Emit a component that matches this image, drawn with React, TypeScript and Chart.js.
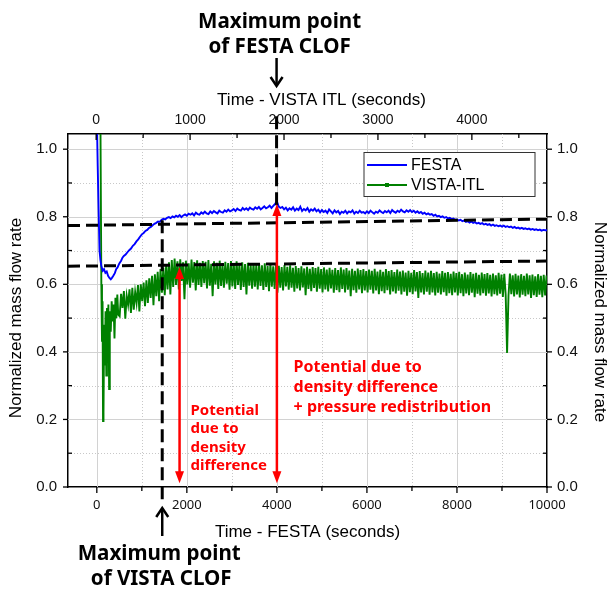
import { useEffect, useRef } from 'react';
import { Chart, registerables } from 'chart.js';
Chart.register(...registerables);

// ---------- data ----------
// FESTA, bottom axis (s)
const FESTA_EARLY_TIME = [0, 20, 40, 60, 80, 100, 130, 160, 190, 220, 250, 280, 310, 340, 370, 400, 430, 460, 500, 540, 570];
const FESTA_EARLY_FLOW = [1.1, 0.95, 0.82, 0.7, 0.672, 0.655, 0.64, 0.645, 0.634, 0.638, 0.625, 0.619, 0.615, 0.62, 0.626, 0.633, 0.645, 0.65, 0.662, 0.67, 0.679];
const FESTA_SAMPLE_START = 600;
const FESTA_SAMPLE_STEP = 40;
const FESTA_FLOW = [
  0.684, 0.688, 0.695, 0.701, 0.706, 0.714, 0.719, 0.727, 0.733, 0.741,
  0.748, 0.752, 0.758, 0.761, 0.767, 0.77, 0.775, 0.779, 0.782, 0.786, 0.785, 0.791, 0.794, 0.792, 0.797, 0.799, 0.796, 0.801, 0.798, 0.803, 0.8, 0.805, 0.799, 0.804, 0.807,
  0.803, 0.809, 0.806, 0.81, 0.804, 0.812, 0.808, 0.806, 0.813, 0.809, 0.815, 0.81, 0.808, 0.816, 0.811, 0.817, 0.813, 0.81, 0.818, 0.814, 0.812, 0.819, 0.815, 0.821, 0.816,
  0.819, 0.823, 0.817, 0.824, 0.82, 0.818, 0.826, 0.821, 0.825, 0.82, 0.827, 0.823, 0.821, 0.828, 0.824, 0.829, 0.822, 0.826, 0.831, 0.825, 0.828, 0.833, 0.826, 0.832, 0.838,
  0.845, 0.83, 0.826, 0.829, 0.822, 0.827, 0.819, 0.825, 0.821, 0.828, 0.818, 0.824, 0.82, 0.83, 0.817, 0.823, 0.819, 0.826, 0.815, 0.822, 0.818, 0.824, 0.816, 0.821, 0.813,
  0.82, 0.814, 0.818, 0.811, 0.822, 0.816, 0.81, 0.819, 0.813, 0.817, 0.808, 0.815, 0.812, 0.818, 0.81, 0.816, 0.813, 0.819, 0.809, 0.815, 0.811, 0.818, 0.812, 0.814, 0.81,
  0.816, 0.811, 0.818, 0.813, 0.809, 0.815, 0.812, 0.819, 0.814, 0.811, 0.817, 0.813, 0.818, 0.811, 0.82, 0.815, 0.812, 0.818, 0.814, 0.821, 0.816, 0.813, 0.819, 0.815, 0.82,
  0.814, 0.818, 0.812, 0.816, 0.811, 0.814, 0.809, 0.812, 0.807, 0.81, 0.806, 0.808, 0.803, 0.806, 0.801, 0.803, 0.799, 0.801, 0.797, 0.799, 0.795, 0.797, 0.793, 0.795, 0.791,
  0.792, 0.789, 0.791, 0.787, 0.789, 0.785, 0.787, 0.783, 0.786, 0.782, 0.784, 0.78, 0.782, 0.779, 0.781, 0.777, 0.779, 0.776, 0.778, 0.774, 0.777, 0.773, 0.775, 0.772, 0.774,
  0.771, 0.774, 0.77, 0.772, 0.769, 0.771, 0.767, 0.77, 0.766, 0.768, 0.765, 0.767, 0.764, 0.766, 0.763, 0.765, 0.762, 0.764, 0.761, 0.763, 0.76, 0.762, 0.759, 0.761, 0.76,
  0.76,
];

// VISTA-ITL, top axis (s)
const VISTA_EARLY_TIME = [0, 45, 55, 62, 68, 73, 78, 85, 92, 100, 108, 115, 122, 130, 138, 145, 155, 165, 175, 185, 195, 205, 215, 225, 235];
const VISTA_EARLY_FLOW = [1.1, 1.1, 0.6, 0.43, 0.55, 0.195, 0.22, 0.48, 0.36, 0.52, 0.33, 0.53, 0.375, 0.54, 0.29, 0.52, 0.46, 0.55, 0.49, 0.54, 0.44, 0.56, 0.5, 0.57, 0.51];
const VISTA_SAMPLE_START = 250;
const VISTA_SAMPLE_STEP = 15;
const VISTA_FLOW = [
  0.505, 0.572, 0.53, 0.58, 0.498, 0.566, 0.54, 0.585, 0.515, 0.59, 0.525, 0.577, 0.545, 0.598, 0.52, 0.6, 0.55, 0.605, 0.535, 0.612,
  0.545, 0.618, 0.56, 0.625, 0.538, 0.63, 0.565, 0.637, 0.55, 0.645, 0.575, 0.65, 0.568, 0.658, 0.585, 0.665, 0.57, 0.672, 0.592, 0.676,
  0.598, 0.668, 0.585, 0.674, 0.61, 0.665, 0.556, 0.67, 0.6, 0.662, 0.59, 0.673, 0.605, 0.666, 0.582, 0.671, 0.598, 0.664, 0.592, 0.669,
  0.603, 0.667, 0.588, 0.672, 0.596, 0.661, 0.565, 0.668, 0.6, 0.664, 0.586, 0.67, 0.595, 0.66, 0.59, 0.667, 0.602, 0.663, 0.584, 0.669,
  0.594, 0.662, 0.586, 0.668, 0.598, 0.659, 0.583, 0.665, 0.592, 0.66, 0.57, 0.664, 0.596, 0.657, 0.587, 0.663, 0.593, 0.658, 0.585, 0.661,
  0.595, 0.656, 0.583, 0.662, 0.592, 0.654, 0.58, 0.66, 0.593, 0.653, 0.586, 0.658, 0.575, 0.655, 0.59, 0.651, 0.582, 0.657, 0.594, 0.652,
  0.584, 0.656, 0.59, 0.649, 0.578, 0.654, 0.588, 0.648, 0.582, 0.653, 0.591, 0.647, 0.568, 0.652, 0.586, 0.646, 0.58, 0.651, 0.589, 0.648,
  0.578, 0.652, 0.587, 0.645, 0.576, 0.65, 0.585, 0.644, 0.579, 0.649, 0.588, 0.643, 0.575, 0.648, 0.583, 0.642, 0.577, 0.65, 0.586, 0.644,
  0.576, 0.648, 0.584, 0.641, 0.565, 0.646, 0.583, 0.64, 0.575, 0.647, 0.585, 0.642, 0.574, 0.645, 0.582, 0.639, 0.576, 0.644, 0.584, 0.64,
  0.573, 0.646, 0.582, 0.638, 0.571, 0.643, 0.58, 0.637, 0.574, 0.645, 0.583, 0.639, 0.57, 0.642, 0.579, 0.636, 0.573, 0.644, 0.581, 0.638,
  0.57, 0.641, 0.578, 0.635, 0.566, 0.64, 0.577, 0.634, 0.571, 0.642, 0.579, 0.636, 0.56, 0.639, 0.576, 0.633, 0.57, 0.641, 0.578, 0.635,
  0.569, 0.64, 0.576, 0.633, 0.567, 0.637, 0.575, 0.632, 0.57, 0.639, 0.577, 0.634, 0.566, 0.636, 0.574, 0.631, 0.568, 0.638, 0.576, 0.633,
  0.567, 0.637, 0.574, 0.63, 0.565, 0.635, 0.573, 0.629, 0.568, 0.636, 0.575, 0.631, 0.562, 0.634, 0.572, 0.628, 0.567, 0.635, 0.574, 0.63,
  0.566, 0.633, 0.573, 0.628, 0.564, 0.632, 0.571, 0.627, 0.567, 0.634, 0.572, 0.629, 0.563, 0.631, 0.57, 0.397, 0.566, 0.632, 0.571, 0.627,
  0.564, 0.631, 0.57, 0.626, 0.561, 0.63, 0.569, 0.625, 0.565, 0.632, 0.57, 0.627, 0.56, 0.629, 0.568, 0.624, 0.563, 0.63, 0.569, 0.625,
  0.562, 0.628, 0.567, 0.626,
];

// reference (dashed) lines
const UPPER_DASH_X = [-640, 10000];
const UPPER_DASH_Y = [0.774, 0.793];
const LOWER_DASH_X = [-640, 10000];
const LOWER_DASH_Y = [0.6535, 0.669];
const VISTA_MAX_TIME = 1453; // on FESTA axis
const VISTA_MAX_DASH_Y = [0.79, -0.045];
const FESTA_MAX_TIME = 3993;
const FESTA_MAX_DASH_Y = [0.834, 1.11];

// red arrows
const RED_ARROW_TIME = [1838, 4000];
const RED_ARROW_LOW = [0.011, 0.011];
const RED_ARROW_HIGH = [0.651, 0.838];

// axes
const FESTA_MIN = -640;
const FESTA_MAX = 10000;
const FESTA_TICKS = [0, 2000, 4000, 6000, 8000, 10000];
const VISTA_MIN = -300;
const VISTA_MAX = 4800;
const VISTA_TICKS = [0, 1000, 2000, 3000, 4000];
const FLOW_MIN = 0;
const FLOW_MAX = 1.045;
const FLOW_TICKS = [0, 0.2, 0.4, 0.6, 0.8, 1.0];

const TEXT1 = ['Potential', 'due to', 'density', 'difference'];
const TEXT1_POS = [2082, 0.227];
const TEXT2 = ['Potential due to', 'density difference', '+ pressure redistribution'];
const TEXT2_POS = [4371, 0.355];

const BLUE = '#0000ff';
const GREEN = '#008000';
const RED = '#ff0000';
const SANS = '"Liberation Sans", Arial, sans-serif';
const NOTO = '"Noto Sans", sans-serif';

const pts = (xs: number[], ys: number[]) => xs.map((x, i) => ({ x, y: ys[i] }));
const sampled = (start: number, step: number, ys: number[]) => ys.map((y, i) => ({ x: start + i * step, y }));
const fixTicks = (list: number[]) => (s: any) => { s.ticks = list.map((value) => ({ value })); };

const decor = {
  id: 'decor',
  beforeDatasetsDraw(chart: any) {
    const { ctx, chartArea: a, scales } = chart;
    const x = scales.x, y = scales.y;
    ctx.save();
    ctx.beginPath();
    ctx.rect(a.left, a.top, a.right - a.left, a.bottom - a.top);
    ctx.clip();
    ctx.lineWidth = 1;
    const xs = FESTA_TICKS[1] - FESTA_TICKS[0];
    const vlines: [number, boolean][] = [];
    FESTA_TICKS.forEach((v) => { vlines.push([v, true]); vlines.push([v + xs / 2, false]); });
    vlines.forEach(([v, major]) => {
      const px = Math.round(x.getPixelForValue(v)) + 0.5;
      ctx.strokeStyle = major ? '#d2d2d2' : '#c8c8c8';
      ctx.setLineDash(major ? [] : [1, 2]);
      ctx.beginPath(); ctx.moveTo(px, a.top); ctx.lineTo(px, a.bottom); ctx.stroke();
    });
    const ys = FLOW_TICKS[1] - FLOW_TICKS[0];
    const hlines: [number, boolean][] = [];
    FLOW_TICKS.forEach((v) => { hlines.push([v, true]); hlines.push([v + ys / 2, false]); });
    hlines.forEach(([v, major]) => {
      const py = Math.round(y.getPixelForValue(v)) + 0.5;
      ctx.strokeStyle = major ? '#d2d2d2' : '#c8c8c8';
      ctx.setLineDash(major ? [] : [1, 2]);
      ctx.beginPath(); ctx.moveTo(a.left, py); ctx.lineTo(a.right, py); ctx.stroke();
    });
    ctx.restore();
  },
  afterDatasetsDraw(chart: any) {
    const { ctx, scales } = chart;
    const x = scales.x, y = scales.y;
    ctx.save();
    ctx.strokeStyle = RED; ctx.fillStyle = RED; ctx.lineWidth = 2.5;
    RED_ARROW_TIME.forEach((t, i) => {
      const px = x.getPixelForValue(t);
      const pLo = y.getPixelForValue(RED_ARROW_LOW[i]);
      const pHi = y.getPixelForValue(RED_ARROW_HIGH[i]);
      const hl = 12, hw = 4.5;
      ctx.beginPath(); ctx.moveTo(px, pHi + hl - 1); ctx.lineTo(px, pLo - hl + 1); ctx.stroke();
      ctx.beginPath(); ctx.moveTo(px, pHi); ctx.lineTo(px - hw, pHi + hl); ctx.lineTo(px + hw, pHi + hl); ctx.closePath(); ctx.fill();
      ctx.beginPath(); ctx.moveTo(px, pLo); ctx.lineTo(px - hw, pLo - hl); ctx.lineTo(px + hw, pLo - hl); ctx.closePath(); ctx.fill();
    });
    ctx.textAlign = 'left'; ctx.textBaseline = 'middle';
    ctx.font = `bold 15px ${NOTO}`;
    TEXT1.forEach((s, i) => ctx.fillText(s, x.getPixelForValue(TEXT1_POS[0]), y.getPixelForValue(TEXT1_POS[1]) + i * 18.6));
    ctx.font = `bold 16px ${NOTO}`;
    TEXT2.forEach((s, i) => ctx.fillText(s, x.getPixelForValue(TEXT2_POS[0]), y.getPixelForValue(TEXT2_POS[1]) + i * 20));
    ctx.restore();
  },
  afterDraw(chart: any) {
    const { ctx, chartArea: a, scales, width, height } = chart;
    const x = scales.x, x2 = scales.x2, y = scales.y;
    ctx.save();
    ctx.strokeStyle = '#000'; ctx.lineWidth = 1.3; ctx.setLineDash([]);
    const line = (x1: number, y1: number, xx: number, yy: number) => { ctx.beginPath(); ctx.moveTo(x1, y1); ctx.lineTo(xx, yy); ctx.stroke(); };
    const xs = FESTA_TICKS[1] - FESTA_TICKS[0];
    FESTA_TICKS.forEach((v) => {
      const p = x.getPixelForValue(v); line(p, a.bottom, p, a.bottom + 6);
      const m = x.getPixelForValue(v + xs / 2); if (m < a.right) line(m, a.bottom, m, a.bottom + 4);
    });
    const x2s = VISTA_TICKS[1] - VISTA_TICKS[0];
    VISTA_TICKS.forEach((v) => {
      const p = x2.getPixelForValue(v); line(p, a.top, p, a.top + 6);
      const m = x2.getPixelForValue(v + x2s / 2); if (m < a.right) line(m, a.top, m, a.top + 4);
    });
    const ys = FLOW_TICKS[1] - FLOW_TICKS[0];
    FLOW_TICKS.forEach((v) => {
      const p = y.getPixelForValue(v);
      line(a.left - 5, p, a.left, p); line(a.right, p, a.right + 5, p);
      const m = y.getPixelForValue(v + ys / 2);
      if (m > a.top) { line(a.left, m, a.left + 4, m); line(a.right - 4, m, a.right, m); }
    });
    ctx.fillStyle = '#000';
    ctx.font = `17px ${SANS}`;
    ctx.textAlign = 'center'; ctx.textBaseline = 'middle';
    ctx.fillText('Time - FESTA (seconds)', (a.left + a.right) / 2, a.bottom + 45);
    ctx.fillText('Time - VISTA ITL (seconds)', (a.left + a.right) / 2 + 14, a.top - 34);
    ctx.save(); ctx.translate(16, 318); ctx.rotate(-Math.PI / 2); ctx.fillText('Normalized mass flow rate', 0, 0); ctx.restore();
    ctx.save(); ctx.translate(width - 8, 322); ctx.rotate(Math.PI / 2); ctx.fillText('Normalized mass flow rate', 0, 0); ctx.restore();
    // legend
    const lx = a.right - 183, ly = a.top + 18.5, lw = 171, lh = 44;
    ctx.fillStyle = '#fff'; ctx.fillRect(lx, ly, lw, lh);
    ctx.strokeStyle = '#333'; ctx.lineWidth = 1; ctx.strokeRect(lx, ly, lw, lh);
    ctx.lineWidth = 2;
    ctx.strokeStyle = BLUE; line(lx + 3, ly + 12.5, lx + 43, ly + 12.5);
    ctx.strokeStyle = GREEN; line(lx + 3, ly + 32.5, lx + 43, ly + 32.5);
    ctx.fillStyle = GREEN; ctx.fillRect(lx + 21, ly + 30.5, 4, 4);
    ctx.fillStyle = '#000'; ctx.font = `16px ${SANS}`; ctx.textAlign = 'left';
    ctx.fillText('FESTA', lx + 47, ly + 13);
    ctx.fillText('VISTA-ITL', lx + 47, ly + 33);
    // black annotation arrows + labels
    ctx.strokeStyle = '#000'; ctx.lineWidth = 2.5; ctx.lineCap = 'butt';
    const tx = x.getPixelForValue(FESTA_MAX_TIME);
    line(tx, a.top - 76, tx, a.top - 48);
    ctx.beginPath(); ctx.moveTo(tx - 6, a.top - 57); ctx.lineTo(tx, a.top - 48); ctx.lineTo(tx + 6, a.top - 57); ctx.stroke();
    const bx = x.getPixelForValue(VISTA_MAX_TIME);
    line(bx, a.bottom + 21, bx, a.bottom + 49);
    ctx.beginPath(); ctx.moveTo(bx - 6, a.bottom + 30); ctx.lineTo(bx, a.bottom + 21); ctx.lineTo(bx + 6, a.bottom + 30); ctx.stroke();
    ctx.font = `bold 20.6px ${NOTO}`; ctx.textAlign = 'center'; ctx.fillStyle = '#000';
    ctx.fillText('Maximum point', tx + 3, 22);
    ctx.fillText('of FESTA CLOF', tx + 3, 47);
    ctx.fillText('Maximum point', bx - 3, height - 37);
    ctx.fillText('of VISTA CLOF', bx - 1, height - 12);
    ctx.restore();
  },
};

export default function App() {
  const ref = useRef<HTMLCanvasElement>(null);
  useEffect(() => {
    document.body.style.margin = '0';
    const dash = (xs: number[], ys: number[], d: number[], clip: boolean): any => ({
      data: pts(xs, ys), borderColor: '#000', borderWidth: 3, borderDash: d, pointRadius: 0,
      xAxisID: 'x', yAxisID: 'y', clip: clip ? undefined : false, fill: false,
    });
    const axisBorder = { display: true, color: '#000', width: 1.5 };
    const plain = (v: any) => String(v);
    const oneDec = (v: any) => Number(v).toFixed(1);
    const chart = new Chart(ref.current!, {
      type: 'line',
      data: {
        datasets: [
          dash(UPPER_DASH_X, UPPER_DASH_Y, [12, 6], true),
          dash(LOWER_DASH_X, LOWER_DASH_Y, [12, 6], true),
          dash([VISTA_MAX_TIME, VISTA_MAX_TIME], VISTA_MAX_DASH_Y, [13, 6], false),
          dash([FESTA_MAX_TIME, FESTA_MAX_TIME], FESTA_MAX_DASH_Y, [13, 6], false),
          {
            label: 'FESTA',
            data: [...pts(FESTA_EARLY_TIME, FESTA_EARLY_FLOW), ...sampled(FESTA_SAMPLE_START, FESTA_SAMPLE_STEP, FESTA_FLOW)],
            borderColor: BLUE, borderWidth: 1.9, pointRadius: 0, xAxisID: 'x', yAxisID: 'y',
          },
          {
            label: 'VISTA-ITL',
            data: [...pts(VISTA_EARLY_TIME, VISTA_EARLY_FLOW), ...sampled(VISTA_SAMPLE_START, VISTA_SAMPLE_STEP, VISTA_FLOW)],
            borderColor: GREEN, borderWidth: 1.9, pointRadius: 0, xAxisID: 'x2', yAxisID: 'y',
          },
        ],
      },
      options: {
        animation: false,
        responsive: false,
        events: [],
        layout: { padding: 0 },
        plugins: { legend: { display: false }, tooltip: { enabled: false } },
        scales: {
          x: {
            type: 'linear', position: 'bottom', min: FESTA_MIN, max: FESTA_MAX,
            afterBuildTicks: fixTicks(FESTA_TICKS),
            afterFit: (s: any) => { s.height = 104; },
            grid: { display: false, drawTicks: false }, border: axisBorder,
            ticks: { padding: 10, color: '#111', font: { family: NOTO, size: 13 }, maxRotation: 0, autoSkip: false, callback: plain },
          },
          x2: {
            type: 'linear', position: 'top', min: VISTA_MIN, max: VISTA_MAX,
            afterBuildTicks: fixTicks(VISTA_TICKS),
            afterFit: (s: any) => { s.height = 134; },
            grid: { display: false, drawTicks: false }, border: axisBorder,
            ticks: { padding: 5, color: '#111', font: { family: SANS, size: 14 }, maxRotation: 0, autoSkip: false, callback: plain },
          },
          y: {
            type: 'linear', position: 'left', min: FLOW_MIN, max: FLOW_MAX,
            afterBuildTicks: fixTicks(FLOW_TICKS),
            afterFit: (s: any) => { s.width = 68; },
            grid: { display: false, drawTicks: false }, border: axisBorder,
            ticks: { padding: 11, color: '#111', font: { family: SANS, size: 15 }, autoSkip: false, callback: oneDec },
          },
          y2: {
            type: 'linear', position: 'right', min: FLOW_MIN, max: FLOW_MAX,
            afterBuildTicks: fixTicks(FLOW_TICKS),
            afterFit: (s: any) => { s.width = 61; },
            grid: { display: false, drawTicks: false }, border: axisBorder,
            ticks: { padding: 10, color: '#111', font: { family: SANS, size: 15 }, autoSkip: false, callback: oneDec },
          },
        },
      },
      plugins: [decor],
    } as any);
    return () => chart.destroy();
  }, []);
  return <canvas ref={ref} width={608} height={591} style={{ display: 'block' }} />;
}
